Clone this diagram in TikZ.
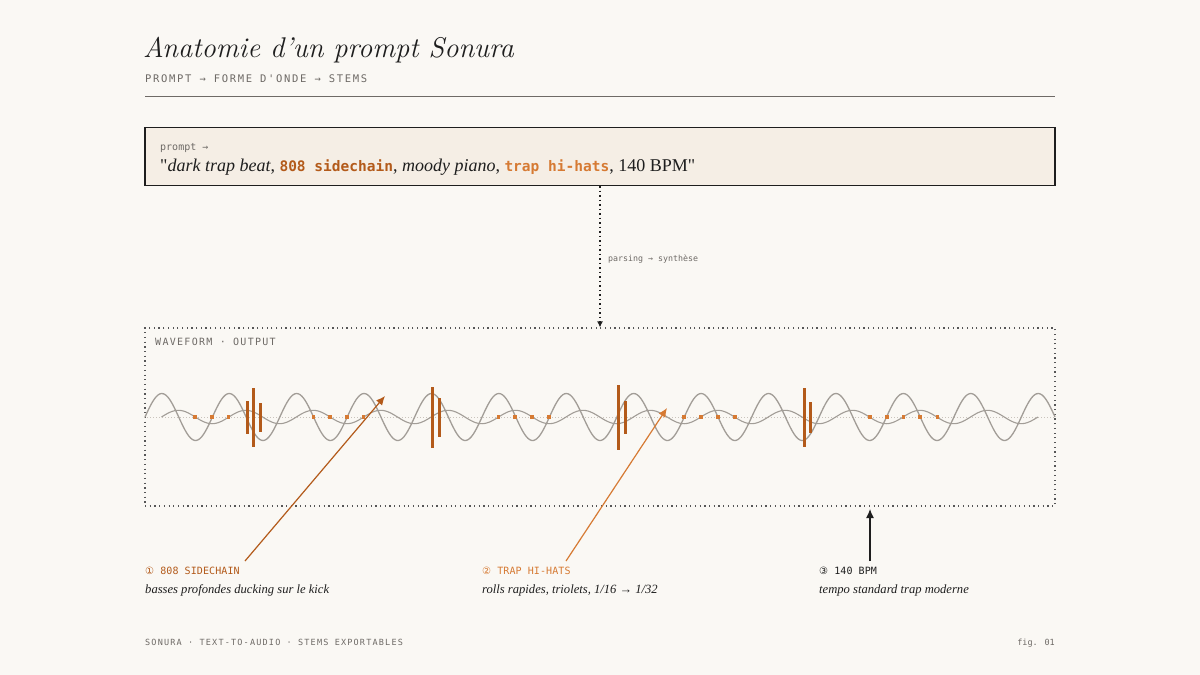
\documentclass[tikz,border=0pt]{standalone}
\usepackage{fontspec}
\newfontfamily\monofont{DejaVu Sans Mono}
\newfontfamily\symfont{DejaVu Sans}
\newfontfamily\bookfont{Liberation Serif}
\usetikzlibrary{positioning,arrows.meta}
\definecolor{OldParchment}{HTML}{FAF8F4}
\definecolor{LinenSheet}{HTML}{F5EEE5}
\definecolor{InkWell}{HTML}{1E1E1E}
\definecolor{AshGrey}{HTML}{6E6A66}
\definecolor{BurntClay}{HTML}{B35A1A}
\definecolor{ApricotGlow}{HTML}{D67A33}
\definecolor{PebbleGrey}{HTML}{A29D97}
\definecolor{DustLine}{HTML}{C9C3BC}
\colorlet{ColourPaper}{OldParchment}
\colorlet{ColourBox}{LinenSheet}
\colorlet{ColourInk}{InkWell}
\colorlet{ColourMuted}{AshGrey}
\colorlet{ColourKick}{BurntClay}
\colorlet{ColourHat}{ApricotGlow}
\colorlet{ColourWave}{PebbleGrey}
\colorlet{ColourGuide}{DustLine}
\tikzset{
  text line/.style={
    anchor=base west, inner sep=0pt
  },
  mono caption/.style={
    text line, text=ColourMuted,
    font=\monofont\fontsize{#1}{#1}\selectfont
  },
  track caption/.style args={#1 at #2}{
    text line, text=ColourMuted,
    font=\monofont\fontsize{#1}{#1}\selectfont\addfontfeature{LetterSpace=#2}
  },
  serif note/.style={
    text line, text=ColourInk,
    font=\bookfont\fontsize{12.6}{15}\selectfont\itshape
  },
}
\tikzset{
  prompt box/.style={
    draw=ColourInk, fill=ColourBox, line width=1.2pt,
    minimum width=910, minimum height=58, inner sep=0pt
  },
  wave box/.style={
    draw=ColourInk!75, line width=1.2pt, dash pattern=on 1.2pt off 3.5pt,
    minimum width=910, minimum height=178, inner sep=0pt
  },
  wave line/.style={
    draw=ColourWave, line width=1.3pt
  },
  centre line/.style={
    draw=ColourGuide, line width=.8pt, dash pattern=on 1pt off 2pt
  },
  kick bar/.style={
    draw=ColourKick, line width=3pt
  },
  hat dot/.style={
    fill=ColourHat, inner sep=0pt, minimum size=3.6
  },
  call arrow/.style={
    draw=#1, line width=1.2pt, -{Latex[length=9,width=8]}
  },
  flow arrow/.style={
    draw=ColourInk, line width=1.5pt, dash pattern=on 1.5pt off 3pt,
    -{Latex[length=6,width=6]}
  },
}
\newcommand\codeword[2]{{\monofont\bfseries\fontsize{14.5}{16}\selectfont\color{#1}#2}}

\begin{document}
\begin{tikzpicture}[x=1pt,y=-1pt]
  \fill[ColourPaper] (0,0) rectangle (1200,675);
  \useasboundingbox (0,0) rectangle (1200,675);

  % header
  \node[text line, text=ColourInk, font=\fontsize{28.5}{34}\selectfont\itshape]
    (title) at (143,57.5) {Anatomie d'un prompt Sonura};
  \node[track caption=10.5 at 16] (subtitle) at (145,82.5)
    {PROMPT → FORME D'ONDE → STEMS};
  \draw[ColourMuted, line width=1.5pt] (145,96.5) -- (1055,96.5);

  % prompt
  \node[prompt box] (prompt) at (600,156.5) {};
  \node[mono caption=10] (promptlabel) at (160,150) {prompt →};
  \node[text line, text=ColourInk, font=\bookfont\fontsize{18}{20}\selectfont]
    (prompttext) at (160,171.5)
    {"{\itshape dark trap beat}, \codeword{ColourKick}{808 sidechain},
     {\itshape moody piano}, \codeword{ColourHat}{trap hi-hats}, 140 BPM"};

  % waveform
  \node[wave box] (wave) at (600,417) {};
  \draw[flow arrow] (prompt.south) -- (wave.north);
  \node[mono caption=8.3] (parsing) at (608,261.5) {parsing → synthèse};
  \node[track caption=10 at 13] (wavelabel) at (155,345) {WAVEFORM · OUTPUT};
  \draw[centre line] (wave.west) -- (wave.east);
  \draw[wave line] plot[domain=145:1055, samples=500, smooth]
    (\x, {417-23.5*sin(360/67.41*(\x-145))});
  \draw[wave line, line width=1.1pt] plot[domain=161.5:1038, samples=400, smooth]
    (\x, {417-6.7*sin(360/67.42*(\x-161.5))});
  \foreach \x/\a/\b in {247/401/434, 253.5/388/447, 260/403/432,
      432.5/387/448, 439/398/437, 618.5/385/450, 625/401/434,
      804/388/447, 810.5/402/433}
    \draw[kick bar] (\x,\a) -- (\x,\b);
  \foreach \x in {195,211.7,228.3, 313.3,330,346.7,363.3, 498.3,515,532,549,
      684,701,718,735, 870,886.7,903.3,920,937.3}
    \node[hat dot] at (\x,417) {};

  % callouts
  \coordinate (kickhit) at (385,396);
  \coordinate (kicktail) at (245,561);
  \coordinate (hathit) at (667,408);
  \coordinate (hattail) at (566,561);
  \coordinate (tempohit) at (870,509);
  \coordinate (tempotail) at (870,561);
  \draw[call arrow=ColourKick] (kicktail) -- (kickhit);
  \draw[call arrow=ColourHat] (hattail) -- (hathit);
  \draw[call arrow=ColourInk] (tempotail) -- (tempohit);

  \node[track caption=10 at 1, text=ColourKick] (kicklabel) at (145,574)
    {{\symfont ①} 808 SIDECHAIN};
  \node[serif note] (kicknote) at (145,593) {basses profondes ducking sur le kick};
  \node[track caption=10 at 1, text=ColourHat] (hatlabel) at (482,574)
    {{\symfont ②} TRAP HI-HATS};
  \node[serif note] (hatnote) at (482,593) {rolls rapides, triolets, 1/16 → 1/32};
  \node[track caption=10 at 1, text=ColourInk] (tempolabel) at (819,574)
    {{\symfont ③} 140 BPM};
  \node[serif note] (temponote) at (819,593) {tempo standard trap moderne};

  % footer
  \node[track caption=8.5 at 14] (footer) at (145,645)
    {SONURA · TEXT-TO-AUDIO · STEMS EXPORTABLES};
  \node[mono caption=8.5, anchor=base east] (fignum) at (1055,645) {fig. 01};
\end{tikzpicture}
\end{document}
